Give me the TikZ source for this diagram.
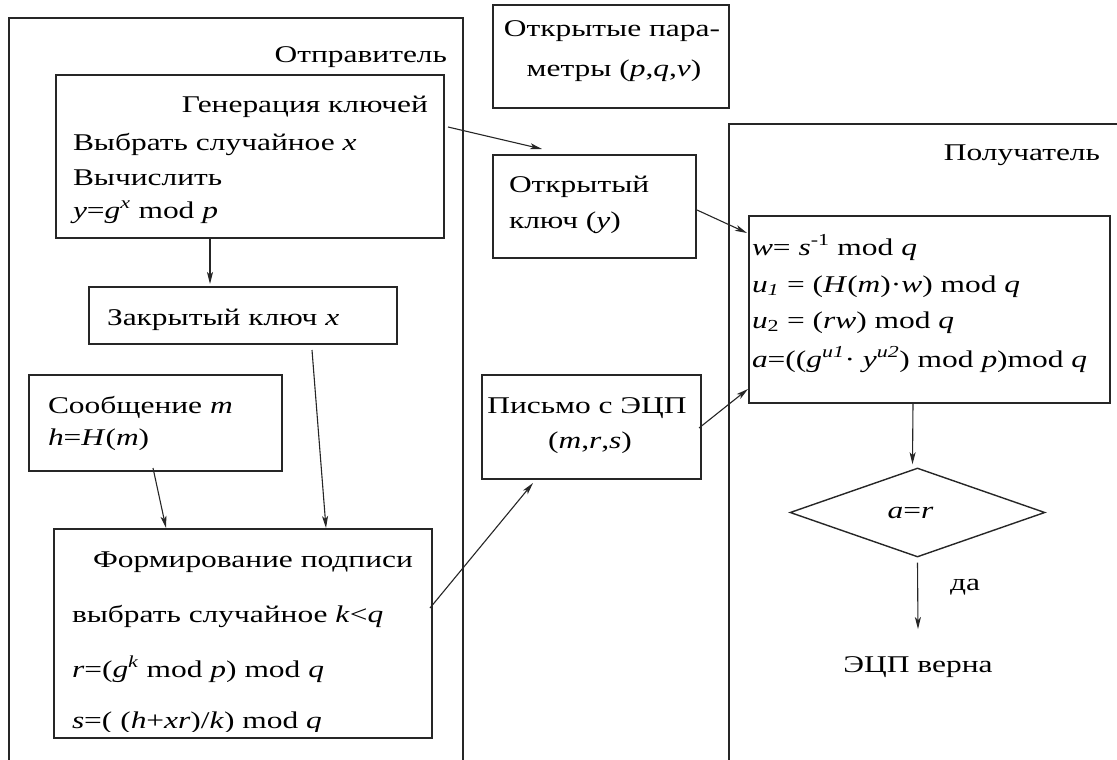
\documentclass[tikz,border=0pt]{standalone}
\usepackage{fontspec}
\setmainfont{Liberation Serif}[FakeStretch=1.31]
\usetikzlibrary{arrows.meta,shapes.geometric,calc}
\tikzset{
  box/.style={draw=black!85, line width=1.4pt, inner sep=0pt, outer sep=0pt, anchor=north west},
  frame/.style={draw=black!85, line width=1.4pt},
  txt/.style={inner sep=0pt, outer sep=0pt, font=\fontsize{24}{28}\selectfont},
  arr/.style={draw=black!85, line width=1.1pt, -{Stealth[length=12pt,width=6pt,inset=3pt]}},
}
\newcommand{\vi}[1]{\textit{#1}}
\begin{document}
\begin{tikzpicture}[x=1pt,y=-1pt]
\useasboundingbox (0,0) rectangle (1117,760);
\clip (0,0) rectangle (1117,760);
% outer frames
\draw[frame] (9,800) -- (9,18) -- (463,18) -- (463,800);
\draw[frame] (729,800) -- (729,124) -- (1130,124);
\node[txt, anchor=base east] (snd) at (447,63) {Отправитель};
\node[txt, anchor=base east] (rcv) at (1100,160) {Получатель};
% boxes
\node[box, minimum width=388pt, minimum height=163pt] (kg) at (56,75) {};
\node[box, minimum width=308pt, minimum height=57pt] (ck) at (89,287) {};
\node[box, minimum width=253pt, minimum height=96pt] (msg) at (29,375) {};
\node[box, minimum width=378pt, minimum height=209pt] (sig) at (54,529) {};
\node[box, minimum width=236pt, minimum height=103pt] (op) at (493,5) {};
\node[box, minimum width=203pt, minimum height=103pt] (ok) at (493,155) {};
\node[box, minimum width=219pt, minimum height=104pt] (lt) at (482,375) {};
\node[box, minimum width=361pt, minimum height=187pt] (ri) at (749,216) {};
\node[draw=black!85, line width=1.4pt, diamond, inner sep=0pt, minimum width=255pt, minimum height=89pt, font=\fontsize{24}{28}\selectfont] (dia) at (917.5,512.5) {\vi{a}=\vi{r}\hspace*{14pt}};
% texts
\node[txt, anchor=base east] (kg1) at (428,113) {Генерация ключей};
\node[txt, anchor=base west] (kg2) at (73,150) {Выбрать случайное \vi{x}};
\node[txt, anchor=base west] (kg3) at (73,185) {Вычислить};
\node[txt, anchor=base west] (kg4) at (73,218) {\vi{y}=\vi{g}\textsuperscript{\vi{x}} mod \vi{p}};
\node[txt, anchor=base west] (ck1) at (107,325) {Закрытый ключ \vi{x}};
\node[txt, anchor=base west] (msg1) at (48,413) {Сообщение \vi{m}};
\node[txt, anchor=base west] (msg2) at (48,445) {\vi{h}=\vi{H}(\vi{m})};
\node[txt, anchor=base west] (sig1) at (93,567) {Формирование подписи};
\node[txt, anchor=base west] (sig2) at (72,622) {выбрать случайное \vi{k}<\vi{q}};
\node[txt, anchor=base west] (sig3) at (72,677) {\vi{r}=(\vi{g}\textsuperscript{\vi{k}} mod \vi{p}) mod \vi{q}};
\begin{scope}
\clip (56,700) rectangle (430,731);
\node[txt, anchor=base west] (sig4) at (72,728) {\vi{s}=( (\vi{h}+\vi{xr})/\vi{k}) mod \vi{q}};
\end{scope}
\node[txt, anchor=base] (op1) at (612,37) {Открытые пара-};
\node[txt, anchor=base] (op2) at (614,77) {метры (\vi{p},\vi{q},\vi{v})};
\node[txt, anchor=base west] (ok1) at (509,192) {Открытый};
\node[txt, anchor=base west] (ok2) at (509,228) {ключ (\vi{y})};
\node[txt, anchor=base] (lt1) at (587,413) {Письмо с ЭЦП};
\node[txt, anchor=base] (lt2) at (590,448) {(\vi{m},\vi{r},\vi{s})};
\node[txt, anchor=base west] (ri1) at (752,255) {\vi{w}= \vi{s}\textsuperscript{-1} mod \vi{q}};
\node[txt, anchor=base west] (ri2) at (752,292) {\vi{u}\textsubscript{\vi{1}} = (\vi{H}(\vi{m})·\vi{w}) mod \vi{q}};
\node[txt, anchor=base west] (ri3) at (752,328) {\vi{u}\textsubscript{2} = (\vi{rw}) mod \vi{q}};
\node[txt, anchor=base west] (ri4) at (752,367) {\vi{a}=((\vi{g}\textsuperscript{\vi{u1}}· \vi{y}\textsuperscript{\vi{u2}}) mod \vi{p})mod \vi{q}};
\node[txt, anchor=base west] (yes) at (950,590) {да};
\node[txt, anchor=base] (res) at (918,672) {ЭЦП верна};
% connectors
\draw[arr] ([shift={(4,-29.5)}]kg.east) -- ([shift={(-52.5,-6)}]ok.north);
\draw[arr] ([shift={(1,3.5)}]ok.east) -- ([shift={(-2,17)}]ri.north west);
\draw[arr] ([shift={(-40,0)}]kg.south) -- ([shift={(-33,-3)}]ck.north);
\draw[arr] ([shift={(69,6)}]ck.south) -- ([shift={(83,-1)}]sig.north);
\draw[arr] ([shift={(-2.5,-3)}]msg.south) -- ([shift={(-77,-1)}]sig.north);
\draw[arr] ([shift={(-2,-25.5)}]sig.east) -- ([shift={(-58.5,4)}]lt.south);
\draw[arr] ([shift={(-2,1)}]lt.east) -- ([shift={(-1,-14)}]ri.south west);
\draw[arr] ([shift={(-16.5,0)}]ri.south) -- ([shift={(-5,-3)}]dia.north);
\draw[arr] ([shift={(0,5)}]dia.south) -- ([shift={(0,-27)}]res.north);
\end{tikzpicture}
\end{document}
